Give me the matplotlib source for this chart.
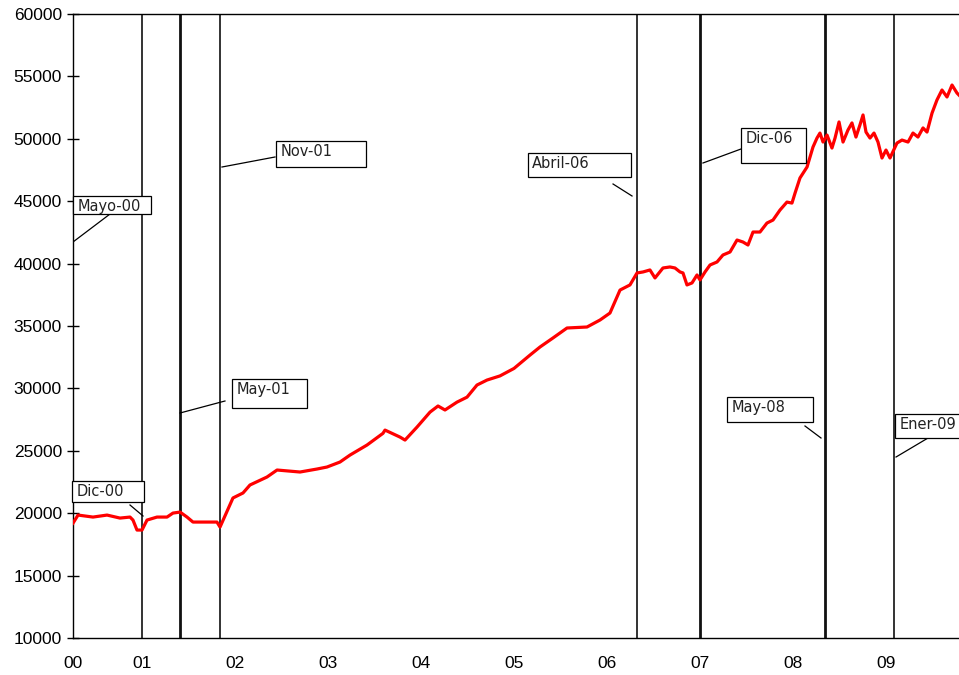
"""
Serie diaria con eventos marcados (líneas verticales y etiquetas).
"""
import matplotlib
matplotlib.use("Agg")
import matplotlib.pyplot as plt
from matplotlib.patches import Rectangle

# ── Datos ─────────────────────────────────────────────────────────────────────
years = [2000.258, 2000.312, 2000.473, 2000.624, 2000.763, 2000.871, 2000.903,
         2000.946, 2001.000, 2001.054, 2001.161, 2001.269, 2001.333, 2001.409,
         2001.484, 2001.548, 2001.699, 2001.806, 2001.839, 2001.978, 2002.086,
         2002.161, 2002.344, 2002.452, 2002.699, 2002.882, 2002.989, 2003.129,
         2003.237, 2003.419, 2003.591, 2003.613, 2003.774, 2003.828, 2003.957,
         2004.097, 2004.183, 2004.258, 2004.387, 2004.495, 2004.602, 2004.710,
         2004.849, 2005.000, 2005.172, 2005.280, 2005.419, 2005.570, 2005.785,
         2005.925, 2006.032,
         2006.140, 2006.247, 2006.323, 2006.387, 2006.462, 2006.516, 2006.602,
         2006.677, 2006.731, 2006.785, 2006.817, 2006.860, 2006.914, 2006.968,
         2007.000, 2007.054, 2007.108, 2007.183, 2007.247, 2007.323, 2007.398,
         2007.462, 2007.516, 2007.570, 2007.645, 2007.720, 2007.785, 2007.860,
         2007.935, 2007.989, 2008.022,
         2008.075, 2008.151, 2008.215, 2008.258, 2008.290, 2008.323, 2008.366,
         2008.419, 2008.452, 2008.495, 2008.538, 2008.591, 2008.634, 2008.677,
         2008.720, 2008.753, 2008.785, 2008.828, 2008.871, 2008.914, 2008.957,
         2009.000, 2009.043, 2009.118, 2009.172, 2009.237, 2009.290, 2009.344,
         2009.398, 2009.441, 2009.495, 2009.548, 2009.602, 2009.656, 2009.710,
         2009.763, 2009.785]
values = [19200, 19850, 19690, 19850, 19610, 19690, 19450,
          18650, 18650, 19450, 19690, 19690, 20010, 20090,
          19690, 19290, 19290, 19290, 18890, 21220, 21620,
          22260, 22900, 23460, 23300, 23540, 23700, 24100,
          24660, 25460, 26400, 26660, 26100, 25860, 26900,
          28100, 28590, 28270, 28900, 29300, 30270, 30670,
          31000, 31600, 32670, 33320, 34040, 34840, 34920,
          35480, 36040,
          37880, 38290, 39250, 39330, 39490, 38850, 39650,
          39730, 39650, 39330, 39250, 38290, 38450, 39090,
          38690, 39330, 39890, 40130, 40690, 40930, 41890,
          41730, 41490, 42530, 42530, 43250, 43490, 44290,
          44930, 44850, 45650,
          46860, 47740, 49340, 50060, 50460, 49740, 50300,
          49260, 50060, 51350, 49740, 50700, 51270, 50140,
          51110, 51910, 50540, 50060, 50460, 49740, 48460,
          49100, 48460, 49660, 49900, 49740, 50460, 50140,
          50870, 50540, 52060, 53110, 53910, 53350, 54310,
          53670, 53500]

# Eventos: posición (año decimal) y grosor de la línea vertical
event_x  = [2001.00, 2001.41, 2001.84, 2006.32, 2007.00, 2008.34, 2009.09]
event_lw = [1.2, 2.0, 1.2, 1.2, 2.0, 2.0, 1.2]

tick_pos    = [2000.258, 2001, 2002, 2003, 2004, 2005, 2006, 2007, 2008, 2009]
tick_labels = ["00", "01", "02", "03", "04", "05", "06", "07", "08", "09"]

# Etiquetas: texto, caja (x0, x1, y_abajo, y_arriba), guía ((x, y), (x, y))
labels = [
    ("Mayo-00",  (2000.258, 2001.097, 43974, 45417), ((2000.258, 41731), (2000.656, 43974))),
    ("Nov-01",   (2002.441, 2003.409, 47740, 49824), ((2001.860, 47740), (2002.430, 48542))),
    ("Dic-00",   (2000.247, 2001.022, 20897, 22580), ((2000.871, 20657), (2001.011, 19776))),
    ("May-01",   (2001.968, 2002.774, 28430, 30753), ((2001.409, 28029), (2001.892, 28990))),
    ("Abril-06", (2005.151, 2006.258, 46939, 48862), ((2006.065, 46378), (2006.269, 45417))),
    ("Dic-06",   (2007.441, 2008.140, 48061, 50865), ((2007.032, 48061), (2007.441, 49183))),
    ("May-08",   (2007.290, 2008.215, 27308, 29311), ((2008.129, 26987), (2008.301, 26026))),
    ("Ener-09",  (2009.097, 2009.830, 26026, 27949), ((2009.108, 24503), (2009.452, 26026))),
]

# ── Figura ────────────────────────────────────────────────────────────────────
fig = plt.figure(figsize=(9.59, 6.75), dpi=100)
ax = fig.add_axes([73 / 959, 37 / 675, 886 / 959, 624 / 675])

for x, lw in zip(event_x, event_lw):
    ax.axvline(x, color="#111111", linewidth=lw, zorder=2)

ax.plot(years, values, color="#ff0000", linewidth=2.3, zorder=3,
        solid_joinstyle="round")

for text, (x0, x1, y0, y1), ((lx0, ly0), (lx1, ly1)) in labels:
    ax.plot([lx0, lx1], [ly0, ly1], color="black", linewidth=0.9, zorder=4)
    ax.add_patch(Rectangle((x0, y0), x1 - x0, y1 - y0, facecolor="white",
                           edgecolor="black", linewidth=0.9, zorder=5,
                           clip_on=False))
    ax.text(x0 + 0.045, y1 - 250, text, ha="left", va="top",
            fontsize=10.5, family="DejaVu Sans", color="#222222", zorder=6)

ax.set_xlim(2000.258, 2009.785)
ax.set_ylim(10000, 60000)
ax.set_yticks(range(10000, 60001, 5000))
ax.set_xticks(tick_pos)
ax.set_xticklabels(tick_labels)

for lab in ax.get_yticklabels() + ax.get_xticklabels():
    lab.set_family("Liberation Sans")
    lab.set_fontsize(12.5)

ax.tick_params(axis="y", direction="inout", length=8, width=1, pad=4)
ax.tick_params(axis="x", length=0, pad=13)
ax.spines["right"].set_visible(False)
for s in ("left", "bottom", "top"):
    ax.spines[s].set_linewidth(1.0)

fig.savefig("out.png", dpi=100)
